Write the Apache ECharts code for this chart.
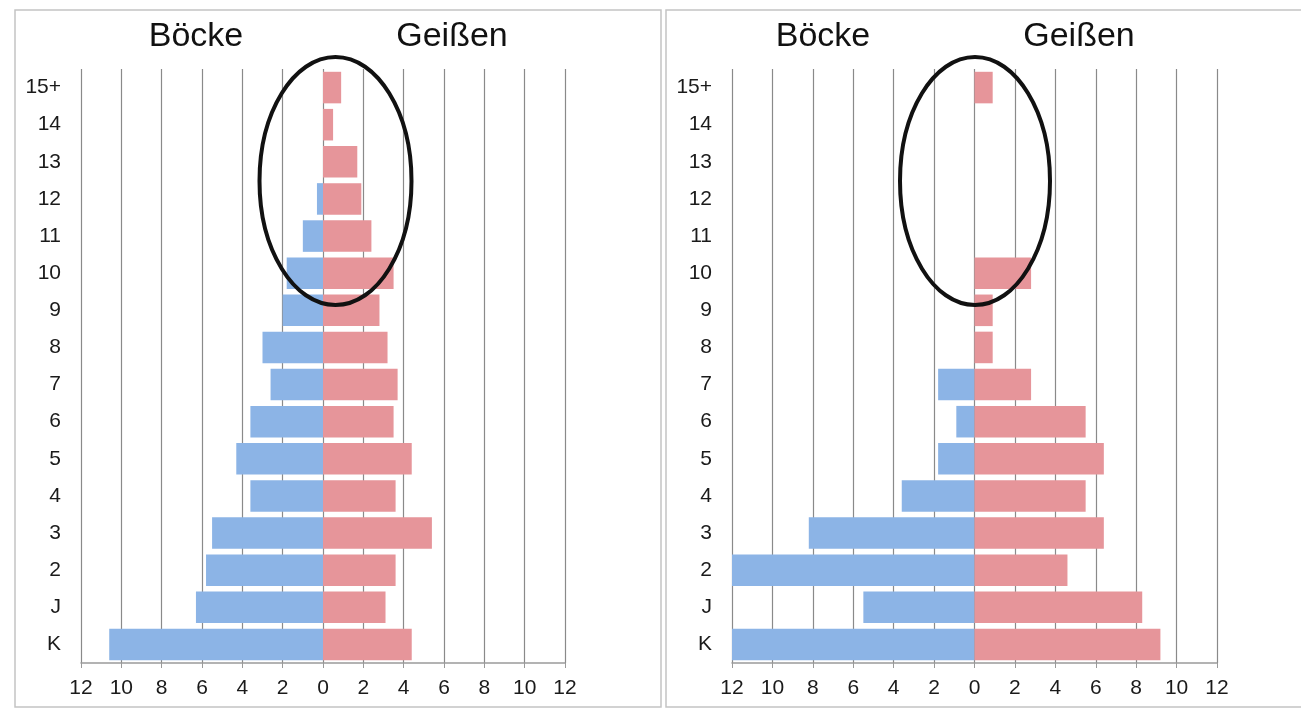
<!DOCTYPE html>
<html>
<head>
<meta charset="utf-8">
<script src="https://cdn.jsdelivr.net/npm/echarts@6/dist/echarts.min.js"></script>
<style>
html,body{margin:0;padding:0;background:#fff;}
#chart{width:1301px;height:708px;}
</style>
</head>
<body>
<div id="chart"></div>
<script>
// Age classes, top to bottom
var categories = ['15+','14','13','12','11','10','9','8','7','6','5','4','3','2','J','K'];
// Left pyramid
var boeckeLeft  = [0, 0, 0, 0.3, 1.0, 1.8, 2.0, 3.0, 2.6, 3.6, 4.3, 3.6, 5.5, 5.8, 6.3, 10.6];
var geissenLeft = [0.9, 0.5, 1.7, 1.9, 2.4, 3.5, 2.8, 3.2, 3.7, 3.5, 4.4, 3.6, 5.4, 3.6, 3.1, 4.4];
// Right pyramid
var boeckeRight  = [0, 0, 0, 0, 0, 0, 0, 0, 1.8, 0.9, 1.8, 3.6, 8.2, 12, 5.5, 12];
var geissenRight = [0.9, 0, 0, 0, 0, 2.8, 0.9, 0.9, 2.8, 5.5, 6.4, 5.5, 6.4, 4.6, 8.3, 9.2];
var xTicks = [-12,-10,-8,-6,-4,-2,0,2,4,6,8,10,12];
var titleLeft = 'Böcke', titleRight = 'Geißen';

var FONT = 'Liberation Sans, Arial, Helvetica, sans-serif';
var BLUE = '#8cb4e6', PINK = '#e6959a';

function xAxisCfg(gi){
  return {
    type:'value', gridIndex:gi, min:xTicks[0], max:xTicks[xTicks.length-1], interval:2,
    axisLine:{show:true, onZero:false, lineStyle:{color:'#9a9a9a', width:1.5}},
    axisTick:{show:true, length:5, lineStyle:{color:'#9a9a9a'}},
    axisLabel:{fontFamily:FONT, fontSize:21, color:'#1a1a1a', margin:15,
      formatter:function(v){return String(Math.abs(v));}},
    splitLine:{show:true, lineStyle:{color:'#8a8a8a', width:1.2}}
  };
}
function yAxisCfg(gi){
  return {
    type:'category', gridIndex:gi, data:categories, inverse:true,
    axisLine:{show:false, onZero:false}, axisTick:{show:false},
    axisLabel:{fontFamily:FONT, fontSize:21, color:'#1a1a1a', margin:20},
    splitLine:{show:false}
  };
}
function neg(a){return a.map(function(v){return -v;});}
function barSeries(name, data, color, gi){
  return {
    name:name, type:'bar', xAxisIndex:gi, yAxisIndex:gi, stack:'s'+gi,
    data:data, barCategoryGap:'15%',
    itemStyle:{color:color}, emphasis:{disabled:true}, animation:false
  };
}

var chart = echarts.init(document.getElementById('chart'));
chart.setOption({
  animation:false,
  backgroundColor:'#fff',
  grid:[
    {left:81, top:69, width:484, height:594},
    {left:732, top:69, width:485, height:594}
  ],
  xAxis:[xAxisCfg(0), xAxisCfg(1)],
  yAxis:[yAxisCfg(0), yAxisCfg(1)],
  series:[
    barSeries('Böcke', neg(boeckeLeft), BLUE, 0),
    barSeries('Geißen', geissenLeft, PINK, 0),
    barSeries('Böcke', neg(boeckeRight), BLUE, 1),
    barSeries('Geißen', geissenRight, PINK, 1)
  ],
  graphic:[
    {type:'rect', shape:{x:15, y:10, width:646, height:697}, style:{fill:'none', stroke:'#c4c4c4', lineWidth:1.5}, z:0, silent:true},
    {type:'rect', shape:{x:666, y:10, width:700, height:697}, style:{fill:'none', stroke:'#c4c4c4', lineWidth:1.5}, z:0, silent:true},
    {type:'text', x:196, y:37, style:{text:titleLeft, font:'34px '+FONT, fill:'#111', textAlign:'center', textVerticalAlign:'middle'}},
    {type:'text', x:452, y:37, style:{text:titleRight, font:'34px '+FONT, fill:'#111', textAlign:'center', textVerticalAlign:'middle'}},
    {type:'text', x:823, y:37, style:{text:titleLeft, font:'34px '+FONT, fill:'#111', textAlign:'center', textVerticalAlign:'middle'}},
    {type:'text', x:1079, y:37, style:{text:titleRight, font:'34px '+FONT, fill:'#111', textAlign:'center', textVerticalAlign:'middle'}},
    {type:'ellipse', shape:{cx:335.5, cy:181, rx:76, ry:124}, style:{fill:'none', stroke:'#111', lineWidth:4}, z:100, silent:true},
    {type:'ellipse', shape:{cx:975, cy:181, rx:75, ry:124}, style:{fill:'none', stroke:'#111', lineWidth:4}, z:100, silent:true}
  ]
});
</script>
</body>
</html>
